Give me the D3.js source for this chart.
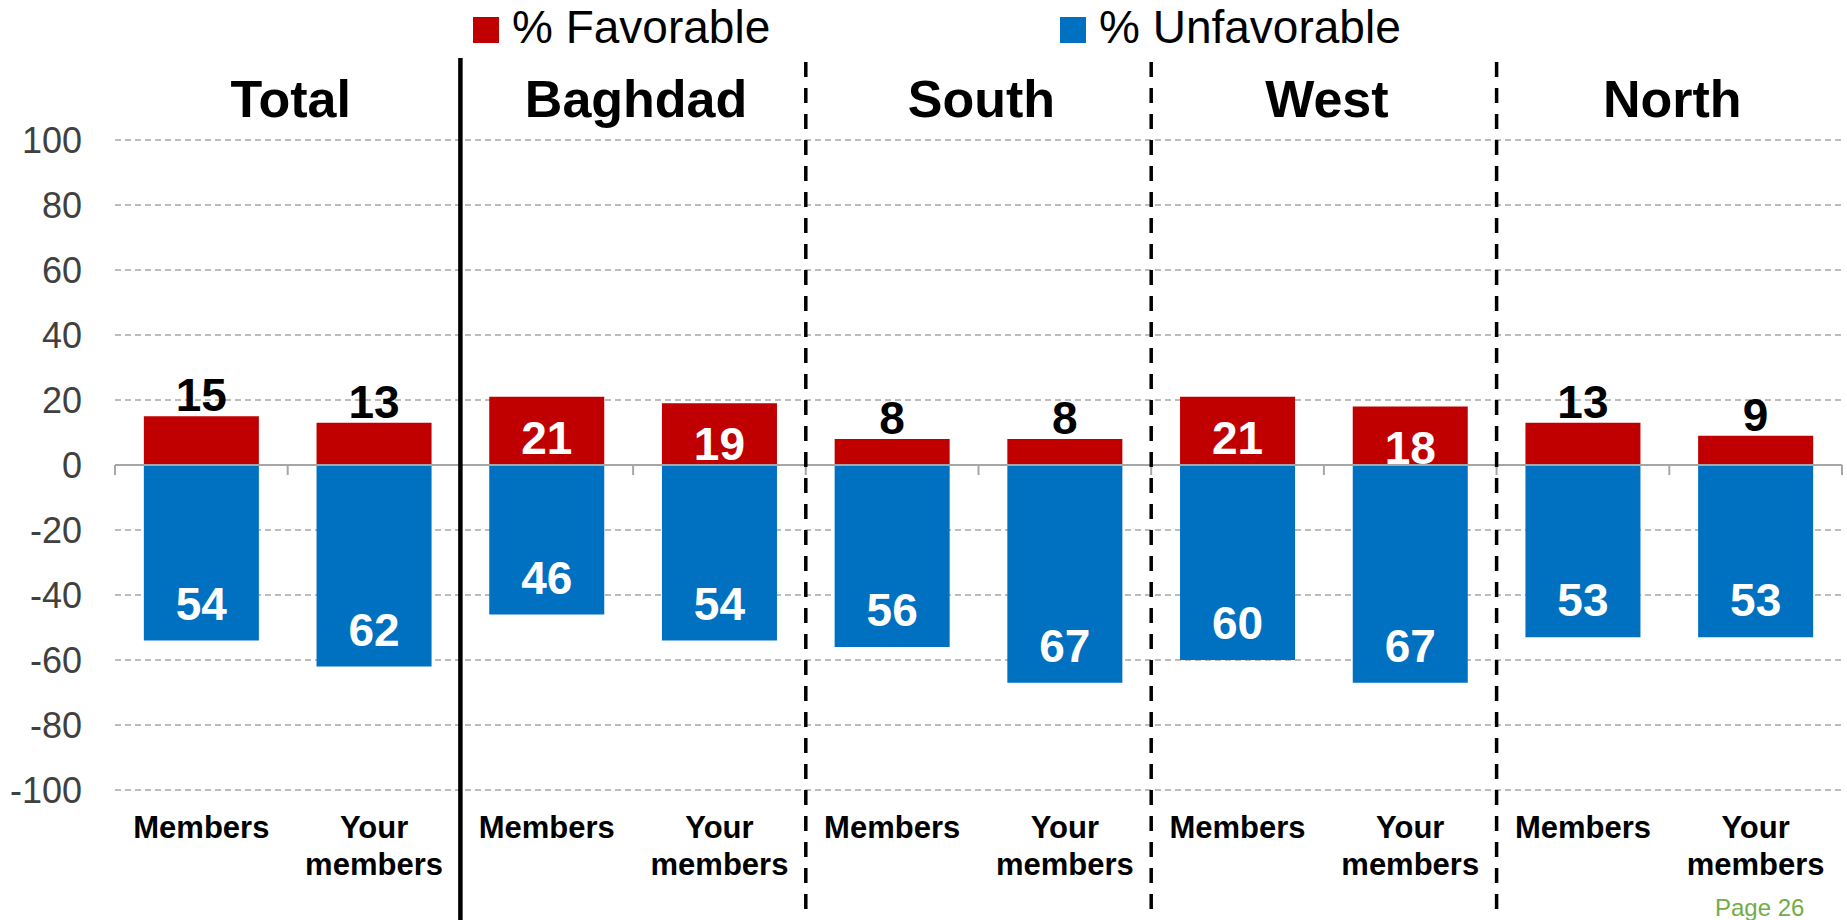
<!doctype html>
<html>
<head>
    <style>
        body { margin: 0; background: #fff; }
        text { font-family: Arial, "Liberation Sans", sans-serif; }
    </style>
    <script src="https://d3js.org/d3.v7.min.js"></script>
</head>
<body>
<svg id="svg1" width="1847" height="920"></svg>
<script>
    var groups = ["Total", "Baghdad", "South", "West", "North"];
    var subCats = ["Members", "Your members"];
    var favorable = [15, 13, 21, 19, 8, 8, 21, 18, 13, 9];
    var unfavorable = [54, 62, 46, 54, 56, 67, 60, 67, 53, 53];
    var yTicks = [100, 80, 60, 40, 20, 0, -20, -40, -60, -80, -100];

    var data = [];
    groups.forEach(function(g, i) {
        subCats.forEach(function(c, j) {
            var k = i * 2 + j;
            data.push({ id: k, group: g, cat: c, fav: favorable[k], unfav: unfavorable[k] });
        });
    });

    var svg = d3.select("#svg1");

    var xScale = d3.scaleBand()
        .domain(data.map(function(d) { return d.id; }))
        .range([115, 1842])
        .paddingInner(0.334)
        .paddingOuter(0.167);
    var step = xScale.step(),
        x0 = 115;

    var yScale = d3.scaleLinear().domain([-100, 100]).range([790, 140]);

    // gridlines
    svg.append("g")
       .selectAll("line")
       .data(yTicks.filter(function(d) { return d !== 0; }))
       .enter().append("line")
       .attr("x1", x0)
       .attr("x2", 1842)
       .attr("y1", function(d) { return yScale(d); })
       .attr("y2", function(d) { return yScale(d); })
       .attr("stroke", "#a6a6a6")
       .attr("stroke-width", 1.5)
       .attr("stroke-dasharray", "6,4");

    // y labels
    svg.append("g")
       .selectAll("text")
       .data(yTicks)
       .enter().append("text")
       .attr("x", 82)
       .attr("y", function(d) { return yScale(d); })
       .attr("dy", "0.35em")
       .attr("text-anchor", "end")
       .attr("font-size", "36px")
       .attr("fill", "#404040")
       .text(function(d) { return d; });

    // bars
    svg.append("g")
       .selectAll("rect")
       .data(data)
       .enter().append("rect")
       .attr("x", function(d) { return xScale(d.id); })
       .attr("y", function(d) { return yScale(d.fav); })
       .attr("width", xScale.bandwidth())
       .attr("height", function(d) { return yScale(0) - yScale(d.fav); })
       .attr("fill", "#c00000");

    svg.append("g")
       .selectAll("rect")
       .data(data)
       .enter().append("rect")
       .attr("x", function(d) { return xScale(d.id); })
       .attr("y", yScale(0))
       .attr("width", xScale.bandwidth())
       .attr("height", function(d) { return yScale(-d.unfav) - yScale(0); })
       .attr("fill", "#0070c0");

    // zero axis with ticks
    var zero = yScale(0);
    svg.append("line")
       .attr("x1", x0).attr("x2", 1842)
       .attr("y1", zero).attr("y2", zero)
       .attr("stroke", "#a6a6a6")
       .attr("stroke-width", 2);
    svg.append("g")
       .selectAll("line")
       .data(d3.range(11))
       .enter().append("line")
       .attr("x1", function(i) { return x0 + i * step; })
       .attr("x2", function(i) { return x0 + i * step; })
       .attr("y1", zero)
       .attr("y2", zero + 10)
       .attr("stroke", "#a6a6a6")
       .attr("stroke-width", 2);

    // value labels
    svg.append("g")
       .selectAll("text")
       .data(data)
       .enter().append("text")
       .attr("x", function(d) { return xScale(d.id) + xScale.bandwidth() / 2; })
       .attr("y", function(d) {
           return d.fav > 16 ? yScale(d.fav) + 57 : yScale(d.fav) - 5;
       })
       .attr("text-anchor", "middle")
       .attr("font-size", "46px")
       .attr("font-weight", "bold")
       .attr("fill", function(d) { return d.fav > 16 ? "#fff" : "#000"; })
       .text(function(d) { return d.fav; });

    svg.append("g")
       .selectAll("text")
       .data(data)
       .enter().append("text")
       .attr("x", function(d) { return xScale(d.id) + xScale.bandwidth() / 2; })
       .attr("y", function(d) { return yScale(-d.unfav) - 21; })
       .attr("text-anchor", "middle")
       .attr("font-size", "46px")
       .attr("font-weight", "bold")
       .attr("fill", "#fff")
       .text(function(d) { return d.unfav; });

    // category labels
    var cat = svg.append("g")
       .selectAll("text")
       .data(data)
       .enter().append("text")
       .attr("text-anchor", "middle")
       .attr("font-size", "31px")
       .attr("font-weight", "bold")
       .attr("fill", "#000");
    cat.each(function(d) {
        var t = d3.select(this),
            cx = xScale(d.id) + xScale.bandwidth() / 2,
            words = d.cat === "Members" ? ["Members"] : ["Your", "members"];
        words.forEach(function(w, i) {
            t.append("tspan").attr("x", cx).attr("y", 838 + i * 37).text(w);
        });
    });

    // group separators
    svg.append("g")
       .selectAll("line")
       .data([2, 4, 6, 8])
       .enter().append("line")
       .attr("x1", function(i) { return x0 + i * step; })
       .attr("x2", function(i) { return x0 + i * step; })
       .attr("y1", function(i) { return i === 2 ? 58 : 62; })
       .attr("y2", 920)
       .attr("stroke", "#000")
       .attr("stroke-width", function(i) { return i === 2 ? 4.5 : 3.5; })
       .attr("stroke-dasharray", function(i) { return i === 2 ? null : "15,11"; });

    // group titles
    svg.append("g")
       .selectAll("text")
       .data(groups)
       .enter().append("text")
       .attr("x", function(d, i) { return x0 + (i * 2 + 1) * step + 3; })
       .attr("y", 117)
       .attr("text-anchor", "middle")
       .attr("font-size", "52px")
       .attr("font-weight", "bold")
       .text(function(d) { return d; });

    // legend
    var legend = [
        { label: "% Favorable", color: "#c00000", x: 473 },
        { label: "% Unfavorable", color: "#0070c0", x: 1060 }
    ];
    var lg = svg.append("g")
       .selectAll("g")
       .data(legend)
       .enter().append("g");
    lg.append("rect")
      .attr("x", function(d) { return d.x; })
      .attr("y", 17)
      .attr("width", 26)
      .attr("height", 26)
      .attr("fill", function(d) { return d.color; });
    lg.append("text")
      .attr("x", function(d) { return d.x + 39; })
      .attr("y", 43)
      .attr("font-size", "46px")
      .attr("fill", "#000")
      .text(function(d) { return d.label; });

    svg.append("text")
       .attr("x", 1715)
       .attr("y", 916)
       .attr("font-size", "24px")
       .attr("fill", "#70ad47")
       .text("Page 26");
</script>
</body>
</html>
